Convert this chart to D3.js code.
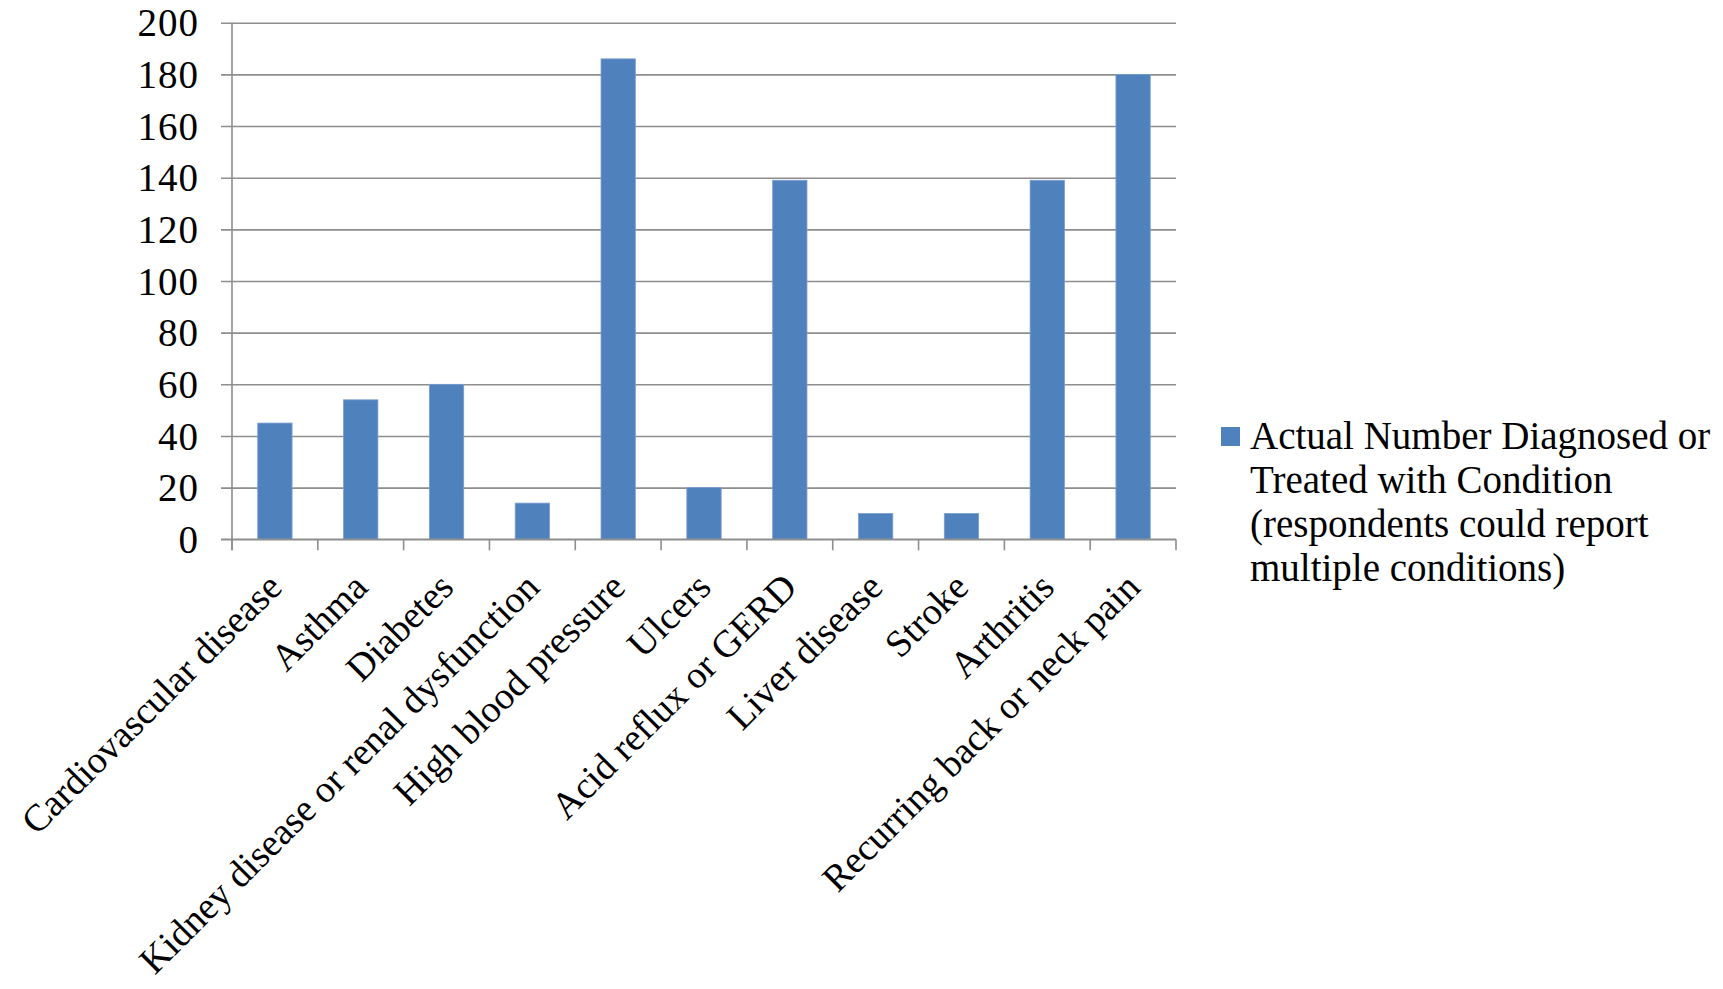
<!DOCTYPE html>
<html>
<head>
<meta charset="utf-8">
<script src="https://cdn.jsdelivr.net/npm/d3@7"></script>
<style>
  html, body { margin: 0; padding: 0; background: #ffffff; }
  svg { display: block; }
  text { font-family: "Liberation Serif", "Times New Roman", serif; fill: #000; }
</style>
</head>
<body>
<svg id="chart" width="1723" height="989"></svg>
<script>
// Self-reported conditions among respondents
const categories = [
  "Cardiovascular disease", "Asthma", "Diabetes",
  "Kidney disease or renal dysfunction", "High blood pressure", "Ulcers",
  "Acid reflux or GERD", "Liver disease", "Stroke", "Arthritis",
  "Recurring back or neck pain"
];
const counts = [45, 54, 60, 14, 186, 20, 139, 10, 10, 139, 180];
const yTicks = [0, 20, 40, 60, 80, 100, 120, 140, 160, 180, 200];
const seriesName = [
  "Actual Number Diagnosed or",
  "Treated with Condition",
  "(respondents could report",
  "multiple conditions)"
];

const svg = d3.select("#chart");
const plot = { left: 232, right: 1176, top: 22.7, bottom: 539.3 };
const fontSize = 39;
const gridColor = "#8e8e8e";
const barColor = "#4f81bd";

const x = d3.scaleBand()
  .domain(categories)
  .range([plot.left, plot.right])
  .paddingInner(0.6)
  .paddingOuter(0.3);

// category boundaries for the tick marks
const xEdges = d3.scaleLinear().domain([0, categories.length]).range([plot.left, plot.right]);

const y = d3.scaleLinear().domain([0, 200]).range([plot.bottom, plot.top]);

// horizontal gridlines with the outer tick
const yAxis = d3.axisLeft(y)
  .tickValues(yTicks)
  .tickSize(-(plot.right - plot.left))
  .tickPadding(33)
  .tickFormat(d3.format("d"));

const gy = svg.append("g")
  .attr("transform", `translate(${plot.left},0)`)
  .call(yAxis);
gy.select(".domain").remove();
gy.selectAll(".tick line")
  .attr("x1", -11)
  .attr("stroke", gridColor)
  .attr("stroke-width", 1.6);
gy.selectAll(".tick text")
  .attr("font-size", fontSize)
  .attr("letter-spacing", 1)
  .attr("dy", "0.34em");

// vertical axis line
svg.append("line")
  .attr("x1", plot.left).attr("x2", plot.left)
  .attr("y1", plot.top).attr("y2", plot.bottom + 11)
  .attr("stroke", gridColor).attr("stroke-width", 1.6);

// category tick marks on the baseline
svg.append("g")
  .selectAll("line")
  .data(d3.range(categories.length + 1))
  .join("line")
  .attr("x1", d => xEdges(d)).attr("x2", d => xEdges(d))
  .attr("y1", plot.bottom).attr("y2", plot.bottom + 11)
  .attr("stroke", gridColor).attr("stroke-width", 1.6);

// bars
svg.append("g")
  .selectAll("rect")
  .data(categories.map((c, i) => ({ c, v: counts[i] })))
  .join("rect")
  .attr("x", d => x(d.c))
  .attr("y", d => y(d.v))
  .attr("width", x.bandwidth())
  .attr("height", d => y(0) - y(d.v))
  .attr("fill", barColor)
  .attr("stroke", "#7a9fd0")
  .attr("stroke-width", 0.8);

// baseline drawn over bars
svg.append("line")
  .attr("x1", plot.left - 11).attr("x2", plot.right)
  .attr("y1", plot.bottom).attr("y2", plot.bottom)
  .attr("stroke", gridColor).attr("stroke-width", 1.6);

// rotated category labels
svg.append("g")
  .selectAll("text")
  .data(categories)
  .join("text")
  .attr("font-size", 38)
  .attr("text-anchor", "end")
  .attr("transform", d => `translate(${x(d) + x.bandwidth() / 2 + 9},${plot.bottom + 50}) rotate(-45)`)
  .text(d => d);

// legend
const legend = svg.append("g");
legend.append("rect")
  .attr("x", 1221).attr("y", 427)
  .attr("width", 19).attr("height", 19)
  .attr("fill", barColor);
legend.append("g")
  .selectAll("text")
  .data(seriesName)
  .join("text")
  .attr("x", 1250)
  .attr("y", (d, i) => 449 + i * 44)
  .attr("font-size", fontSize)
  .text(d => d);
</script>
</body>
</html>
